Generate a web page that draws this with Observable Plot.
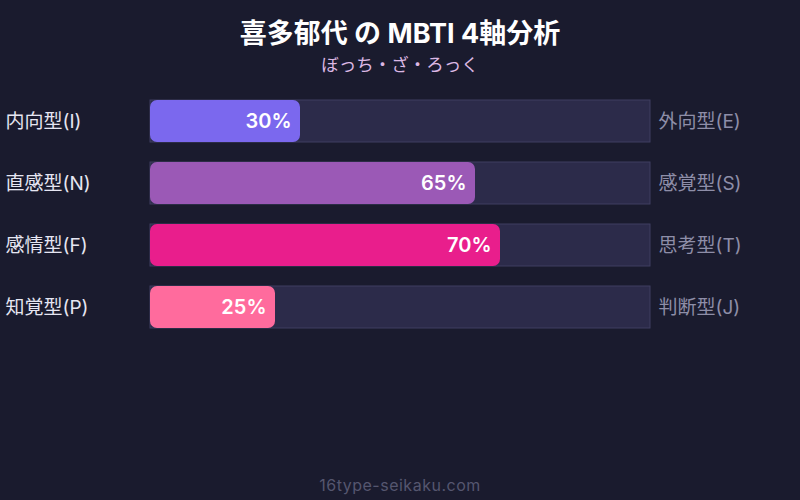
<!DOCTYPE html>
<html>
<head>
<meta charset="utf-8">
<script src="https://cdn.jsdelivr.net/npm/d3@7"></script>
<script src="https://cdn.jsdelivr.net/npm/@observablehq/plot@0.6"></script>
<style>
  html, body { margin: 0; padding: 0; background: #1a1b2e; }
  body { width: 800px; height: 500px; overflow: hidden; font-family: Inter, "Noto Sans CJK JP", sans-serif; }
  #title { box-sizing: border-box; height: 52px; padding-top: 12px; line-height: 44px; text-align: center; color: #ffffff; font-size: 27px; font-weight: 700; }
  #subtitle { height: 32px; line-height: 26px; text-align: center; color: #dcb8e4; font-size: 17.5px; }
  #footer { height: 30px; line-height: 30px; text-align: center; color: #55566f; font-size: 16px; letter-spacing: 0.5px; }
  svg { display: block; }
</style>
</head>
<body>
<div id="title">喜多郁代 の MBTI 4軸分析</div>
<div id="subtitle">ぼっち・ざ・ろっく</div>
<div id="chart"></div>
<div id="footer">16type-seikaku.com</div>
<script>
const leftLabels = ["内向型(I)", "直感型(N)", "感情型(F)", "知覚型(P)"];
const rightLabels = ["外向型(E)", "感覚型(S)", "思考型(T)", "判断型(J)"];
const values = [30, 65, 70, 25];
const colors = ["#7b68ee", "#9b59b6", "#e91e8c", "#ff6b9d"];

const data = leftLabels.map((l, i) => ({ left: l, right: rightLabels[i], value: values[i], color: colors[i] }));

const font = 'Inter, "Noto Sans CJK JP", sans-serif';

const chart = Plot.plot({
  width: 800,
  height: 386,
  marginLeft: 150,
  marginRight: 150,
  marginTop: 0,
  marginBottom: 0,
  style: { background: "transparent", fontFamily: font },
  x: { domain: [0, 100], axis: null },
  y: { domain: leftLabels, range: [16, 244], paddingInner: 20 / 62, paddingOuter: 0, axis: null },
  marks: [
    Plot.barX(data, { y: "left", x1: 0, x2: 100, fill: "#2c2b4a", stroke: "#3f3f60", strokeWidth: 1 }),
    Plot.barX(data, { y: "left", x1: 0, x2: "value", fill: "color", rx: 7 }),
    Plot.text(data, { y: "left", x: "value", text: d => d.value + "%", textAnchor: "end", dx: -9, fill: "#ffffff", fontSize: 20, fontWeight: 600 }),
    Plot.text(data, { y: "left", frameAnchor: "left", text: "left", textAnchor: "start", dx: -145, fill: "#e6e6f2", fontSize: 19 }),
    Plot.text(data, { y: "left", frameAnchor: "right", text: "right", textAnchor: "start", dx: 8, fill: "#8e8ea8", fontSize: 19 })
  ]
});
document.getElementById("chart").appendChild(chart);
</script>
</body>
</html>
